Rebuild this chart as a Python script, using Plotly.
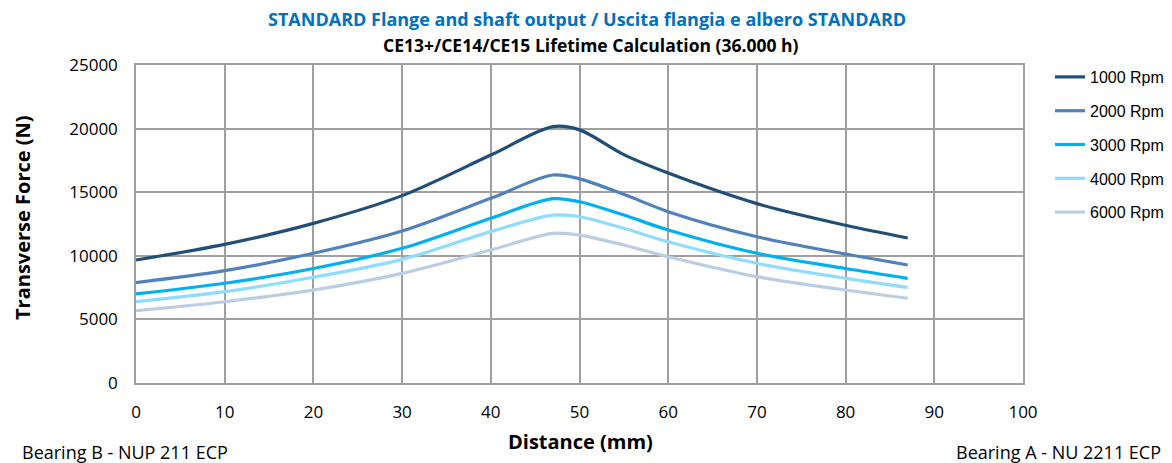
import plotly.graph_objects as go

distance = [0, 10, 20, 30, 40, 47, 50, 55, 60, 70, 80, 87]
rpm_1000 = [9670, 10900, 12550, 14730, 17920, 20150, 19900, 17950, 16500, 14100, 12400, 11400]
rpm_2000 = [7890, 8830, 10200, 11950, 14520, 16350, 16050, 14830, 13470, 11500, 10140, 9280]
rpm_3000 = [7000, 7840, 9000, 10590, 12950, 14490, 14250, 13200, 12030, 10200, 9000, 8230]
rpm_4000 = [6390, 7180, 8310, 9720, 11900, 13200, 13070, 12160, 11100, 9410, 8230, 7520]
rpm_6000 = [5680, 6390, 7310, 8620, 10460, 11770, 11630, 10850, 9930, 8360, 7310, 6660]

series_names = ["1000 Rpm", "2000 Rpm", "3000 Rpm", "4000 Rpm", "6000 Rpm"]
series_values = [rpm_1000, rpm_2000, rpm_3000, rpm_4000, rpm_6000]
colors = ["#1f4e79", "#4f81bd", "#00b0f0", "#8fdcff", "#b9cde5"]

title_main = "STANDARD Flange and shaft output / Uscita flangia e albero STANDARD"
title_sub = "CE13+/CE14/CE15 Lifetime Calculation (36.000 h)"

# page body has an 8px default margin; compensate so the plot sits where the reference has it
OFF = 8
W, H = 1172 - OFF, 463 - OFF
PL, PR, PT, PB = 136, 1023, 65, 383  # plot area in page pixels
ML, MR, MT, MB = PL - OFF, 1172 - PR, PT - OFF, 463 - PB
plot_w = PR - PL
plot_h = PB - PT
def px(xp):
    return (xp - PL) / plot_w
def py(yp):
    return (PB - yp) / plot_h

fig = go.Figure()
for i, (name, vals, col) in enumerate(zip(series_names, series_values, colors)):
    fig.add_trace(go.Scatter(
        x=distance, y=vals, name=name, mode="lines",
        line=dict(color=col, width=3.2, shape="spline", smoothing=0.9),
        legendgroup=f"g{i}",
    ))

grid = "#a0a0a0"
tickfont = dict(size=17, family="Open Sans, sans-serif", color="black")
fig.update_layout(
    width=W, height=H,
    margin=dict(l=ML, r=MR, t=MT, b=MB, autoexpand=False),
    plot_bgcolor="white", paper_bgcolor="white",
    font=dict(family="Open Sans, Liberation Sans, sans-serif", color="black"),
    showlegend=True,
    legend=dict(x=px(1050), y=py(60), xanchor="left", yanchor="top",
                font=dict(family="Liberation Sans, Arial, sans-serif", size=16, color="black"),
                tracegroupgap=10, bgcolor="rgba(0,0,0,0)"),
    xaxis=dict(range=[0, 100], dtick=10, tick0=0, tickformat="d",
               showgrid=True, gridcolor=grid, gridwidth=1.5,
               showline=True, linecolor=grid, linewidth=1.5, mirror=True, zeroline=False,
               ticks="", tickfont=tickfont, ticklabelstandoff=13, automargin=False),
    yaxis=dict(range=[0, 25000], dtick=5000, tick0=0, tickformat="d",
               showgrid=True, gridcolor=grid, gridwidth=1.5,
               showline=True, linecolor=grid, linewidth=1.5, mirror=True, zeroline=False,
               ticks="", tickfont=tickfont, ticklabelstandoff=13, automargin=False),
    annotations=[
        dict(text=f"<b>{title_main}</b>", x=px(587), y=py(19), xanchor="center", yanchor="middle",
             xref="paper", yref="paper", showarrow=False, font=dict(size=18, color="#0070c0")),
        dict(text=f"<b>{title_sub}</b>", x=px(591), y=py(45), xanchor="center", yanchor="middle",
             xref="paper", yref="paper", showarrow=False, font=dict(size=17.5, color="black")),
        dict(text="<b>Distance (mm)</b>", x=px(580), y=py(441), xanchor="center", yanchor="middle",
             xref="paper", yref="paper", showarrow=False, font=dict(size=20, color="black")),
        dict(text="<b>Transverse Force (N)</b>", x=px(22), y=py(218), xanchor="center", yanchor="middle",
             xref="paper", yref="paper", showarrow=False, textangle=-90,
             font=dict(size=20, color="black")),
        dict(text="Bearing B - NUP 211 ECP", x=px(20), y=py(452), xanchor="left", yanchor="middle",
             xref="paper", yref="paper", showarrow=False, font=dict(size=18)),
        dict(text="Bearing A - NU 2211 ECP", x=px(1163), y=py(452), xanchor="right", yanchor="middle",
             xref="paper", yref="paper", showarrow=False, font=dict(size=18)),
    ],
)

fig.write_html("out.html")
